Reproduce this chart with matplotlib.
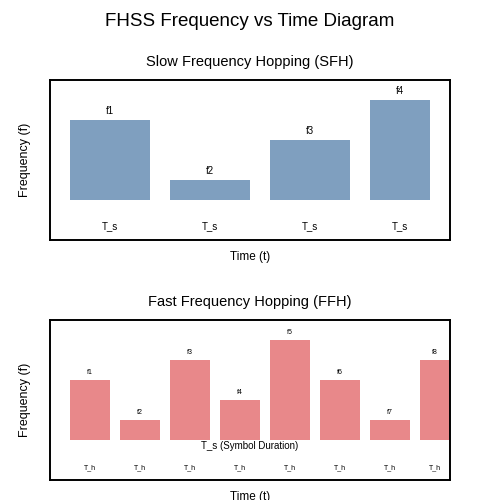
import matplotlib.pyplot as plt
plt.rcParams['font.family'] = ['Liberation Sans', 'DejaVu Sans']

sfh_labels = ["f1", "f2", "f3", "f4"]
sfh_heights = [4, 1, 3, 5]
sfh_starts = [0.5, 3.0, 5.5, 8.0]
sfh_widths = [2.0, 2.0, 2.0, 1.5]

ffh_labels = ["f1", "f2", "f3", "f4", "f5", "f6", "f7", "f8"]
ffh_heights = [3, 1, 4, 2, 5, 3, 1, 4]
ffh_starts = [0.5, 1.75, 3.0, 4.25, 5.5, 6.75, 8.0, 9.25]
ffh_widths = [1, 1, 1, 1, 1, 1, 1, 0.75]

fig = plt.figure(figsize=(5, 5), dpi=100)
fig.suptitle("FHSS Frequency vs Time Diagram", fontsize=13.5, y=0.975)
ax1 = fig.add_axes([0.1, 0.52, 0.8, 0.32])
ax2 = fig.add_axes([0.1, 0.04, 0.8, 0.32])

for ax in (ax1, ax2):
    ax.set_xlim(0, 10)
    ax.set_ylim(-2, 6)
    ax.set_xticks([]); ax.set_yticks([])
    ax.set_ylabel("Frequency (f)", fontsize=9, labelpad=14)
    ax.set_xlabel("Time (t)", fontsize=8.5, labelpad=8)
    for sp in ax.spines.values():
        sp.set_linewidth(1.4)

ax1.set_title("Slow Frequency Hopping (SFH)", fontsize=10.5, pad=10)
for lab, h, s, w in zip(sfh_labels, sfh_heights, sfh_starts, sfh_widths):
    ax1.bar(s, h, width=w, align="edge", color="#7f9fbf")
    ax1.text(s + w / 2, h + 0.2, lab, ha="center", va="bottom", fontsize=7)
    ax1.text(s + w / 2, -1.3, "T_s", ha="center", va="center", fontsize=7)

ax2.set_title("Fast Frequency Hopping (FFH)", fontsize=10.5, pad=10)
for lab, h, s, w in zip(ffh_labels, ffh_heights, ffh_starts, ffh_widths):
    ax2.bar(s, h, width=w, align="edge", color="#e8888a")
    ax2.text(s + w / 2, h + 0.2, lab, ha="center", va="bottom", fontsize=5)
    ax2.text(s + w / 2, -1.4, "T_h", ha="center", va="center", fontsize=5)
ax2.text(5, -0.3, "T_s (Symbol Duration)", ha="center", va="center", fontsize=7)

fig.savefig("out.png", dpi=100)
